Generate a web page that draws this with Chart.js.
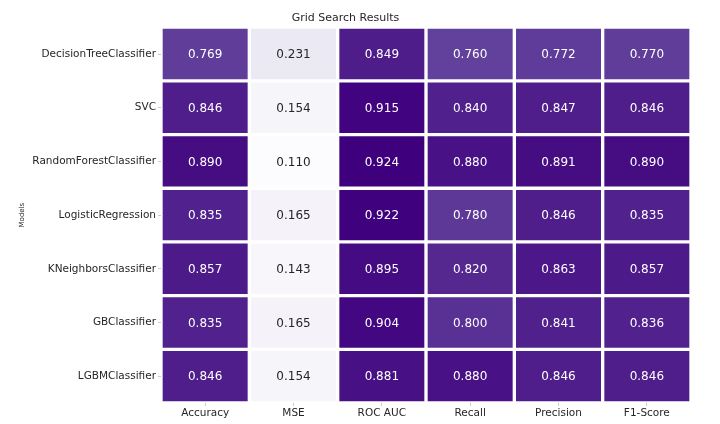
<!DOCTYPE html>
<html>
<head>
<meta charset="utf-8">
<script src="https://cdn.jsdelivr.net/npm/chart.js@4"></script>
<style>
  body { margin: 0; background: #fff; }
</style>
</head>
<body>
<canvas id="heatmap" width="720" height="424"></canvas>
<script>
// models (rows, top to bottom) and metrics (columns)
var models = ['DecisionTreeClassifier', 'SVC', 'RandomForestClassifier', 'LogisticRegression',
              'KNeighborsClassifier', 'GBClassifier', 'LGBMClassifier'];
var metrics = ['Accuracy', 'MSE', 'ROC AUC', 'Recall', 'Precision', 'F1-Score'];

// scores per model, in metric order
var decisionTree = [0.769, 0.231, 0.849, 0.760, 0.772, 0.770];
var svc          = [0.846, 0.154, 0.915, 0.840, 0.847, 0.846];
var randomForest = [0.890, 0.110, 0.924, 0.880, 0.891, 0.890];
var logistic     = [0.835, 0.165, 0.922, 0.780, 0.846, 0.835];
var kNeighbors   = [0.857, 0.143, 0.895, 0.820, 0.863, 0.857];
var gbClassifier = [0.835, 0.165, 0.904, 0.800, 0.841, 0.836];
var lgbm         = [0.846, 0.154, 0.881, 0.880, 0.846, 0.846];

var rows = [decisionTree, svc, randomForest, logistic, kNeighbors, gbClassifier, lgbm];

// matplotlib "Purples" colormap stops
var purples = [[252,251,253],[239,237,245],[218,218,235],[188,189,220],[158,154,200],
               [128,125,186],[106,81,163],[84,39,143],[63,0,125]];
var all = [].concat.apply([], rows);
var vmin = Math.min.apply(null, all), vmax = Math.max.apply(null, all);

function rgbFor(v) {
    var t = (v - vmin) / (vmax - vmin) * (purples.length - 1);
    var i = Math.min(Math.floor(t), purples.length - 2), f = t - i;
    return purples[i].map(function (c, k) { return Math.round(c + (purples[i + 1][k] - c) * f); });
}
function colorFor(v) { return 'rgb(' + rgbFor(v).join(',') + ')'; }
function textFor(v) {
    var lum = rgbFor(v).map(function (c) {
        c /= 255;
        return c <= 0.03928 ? c / 12.92 : Math.pow((c + 0.055) / 1.055, 2.4);
    });
    var l = 0.2126 * lum[0] + 0.7152 * lum[1] + 0.0722 * lum[2];
    return l > 0.408 ? '#262626' : '#ffffff';
}

var datasets = rows.map(function (vals, r) {
    return {
        label: models[r],
        data: metrics.map(function () { return [r, r + 1]; }),
        scores: vals,
        backgroundColor: vals.map(colorFor),
        borderColor: '#ffffff',
        borderWidth: 2,
        borderSkipped: false
    };
});

// write the score in each cell
var cellLabels = {
    id: 'cellLabels',
    afterDatasetsDraw: function (chart) {
        var c = chart.ctx;
        c.save();
        c.font = '12px "DejaVu Sans"';
        c.textAlign = 'center';
        c.textBaseline = 'middle';
        chart.data.datasets.forEach(function (ds, d) {
            chart.getDatasetMeta(d).data.forEach(function (el, i) {
                var v = ds.scores[i];
                c.fillStyle = textFor(v);
                c.fillText(v.toFixed(3), el.x, (el.y + el.base) / 2 + 1);
            });
        });
        c.restore();
    }
};

var ctx = document.getElementById('heatmap').getContext('2d');
var chart = new Chart(ctx, {
    type: 'bar',
    data: { labels: metrics, datasets: datasets },
    plugins: [cellLabels],
    options: {
        responsive: false,
        animation: false,
        grouped: false,
        barPercentage: 1,
        categoryPercentage: 1,
        layout: { padding: { left: 0, right: 29, top: 0, bottom: 0 } },
        plugins: {
            legend: { display: false },
            tooltip: { enabled: false },
            title: {
                display: true,
                text: 'Grid Search Results',
                color: '#262626',
                font: { family: 'DejaVu Sans', size: 11, weight: 'normal' },
                padding: { top: 12, bottom: 2 }
            }
        },
        scales: {
            x: {
                type: 'category',
                offset: true,
                grid: { display: true, offset: false, drawOnChartArea: false, drawTicks: true, tickLength: 3, color: '#cccccc' },
                border: { display: false },
                ticks: { color: '#262626', padding: 1, font: { family: 'DejaVu Sans', size: 10.5 } },
                afterFit: function (s) { s.height = 21; }
            },
            y: {
                type: 'linear',
                min: 0,
                max: 7,
                reverse: true,
                afterBuildTicks: function (s) {
                    s.ticks = models.map(function (m, i) { return { value: i + 0.5 }; });
                },
                grid: { display: true, drawOnChartArea: false, drawTicks: true, tickLength: 3, color: '#cccccc' },
                border: { display: false },
                ticks: {
                    color: '#262626',
                    padding: 2,
                    autoSkip: false,
                    font: { family: 'DejaVu Sans', size: 10.5 },
                    callback: function (v) { return models[Math.floor(v)]; }
                },
                title: {
                    display: true,
                    text: 'Models',
                    color: '#262626',
                    font: { family: 'DejaVu Sans', size: 7 },
                    padding: { top: 18, bottom: 0 }
                },
                afterFit: function (s) { s.width = 161; }
            }
        }
    }
});
</script>
</body>
</html>
